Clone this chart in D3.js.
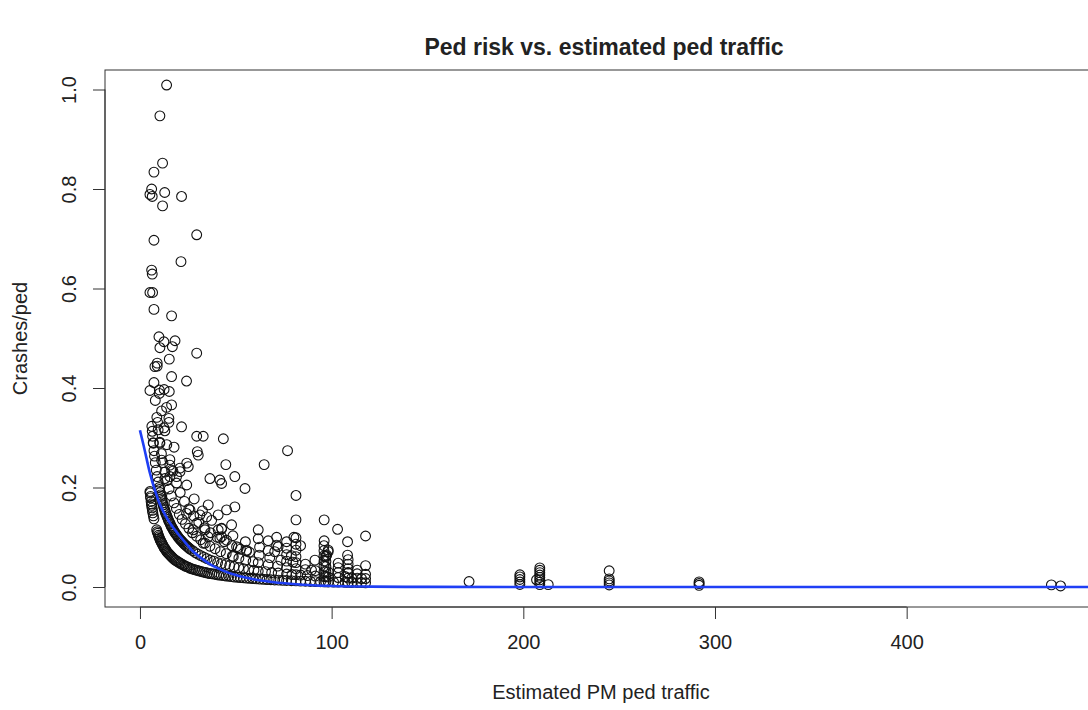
<!DOCTYPE html>
<html><head><meta charset="utf-8">
<script src="https://cdn.jsdelivr.net/npm/d3@7"></script>
<style>html,body{margin:0;padding:0;background:#fff;} svg{display:block;font-family:"Liberation Sans",Arial,Helvetica,sans-serif;}</style>
</head><body><svg id="chart" width="1088" height="710"></svg>
<script>
// ---- data ----
const chartTitle = "Ped risk vs. estimated ped traffic";
const xLabel = "Estimated PM ped traffic";
const yLabel = "Crashes/ped";
const xTicks = [0, 100, 200, 300, 400];
const yTicks = [0, 0.2, 0.4, 0.6, 0.8, 1.0];
const yTickLabels = ["0.0", "0.2", "0.4", "0.6", "0.8", "1.0"];

// lowest dense band (one crash)
const lowBand = [[5.2,0.192],[5.3,0.189],[5.5,0.182],[5.6,0.179],[5.8,0.172],[6.0,0.167],[6.1,0.164],[6.3,0.159],[6.5,0.154],[6.7,0.149],[7.0,0.143],[7.3,0.137],
[8.7,0.115],[9.0,0.111],[9.3,0.108],[9.6,0.104],[9.9,0.101],[10.2,0.098],[10.5,0.095],[10.8,0.093],[11.1,0.090],[11.4,0.088],[11.8,0.085],[12.2,0.082],[12.6,0.079],[13.0,0.077],[13.4,0.075],[13.8,0.072],[14.2,0.070],[14.7,0.068],[15.2,0.066],[15.7,0.064],[16.2,0.062],[16.7,0.060],[17.2,0.058],[17.8,0.056],[18.4,0.054],[19.0,0.053],[19.6,0.051],[20.2,0.050],[20.8,0.048],[21.5,0.047],[22.2,0.045],[22.9,0.044],[23.6,0.042],[24.4,0.041],[25.2,0.040],[26.0,0.038],[26.8,0.037],[27.6,0.036],[28.5,0.035],[29.4,0.034],[30.3,0.033],[31.2,0.032],[32.2,0.031],[33.2,0.030],[34.2,0.029],[35.3,0.028],[36.4,0.027],[37.5,0.0267],[38.7,0.026],[39.9,0.025],[41.1,0.024],[42.4,0.0236],[43.7,0.023],[45.0,0.022],[46.4,0.0216],[47.8,0.021],[49.3,0.020],[50.8,0.0197],[52.3,0.019],[53.9,0.0186],[55.5,0.018],[57.2,0.0175],[58.9,0.017],[60.6,0.0165],[62.5,0.016],[64.4,0.0155],[66.3,0.015],[68.3,0.0146],[70.3,0.0142],[72.4,0.0138],[74.5,0.0134],[76.5,0.0131],[79.0,0.0127],[81.4,0.0123],[83.8,0.0119],[86.3,0.0116],[88.9,0.0112],[91.5,0.0109],[94.2,0.0106],[96.0,0.0104],[97.0,0.0103],[98.2,0.0102],[101,0.0099],[103.4,0.0097],[107,0.0093],[108.6,0.0092],[110.5,0.0090],[113.3,0.0088],[115.6,0.0087],[117.7,0.0085]];

// second band (two crashes)
const secondBand = [[6.2,0.323],[6.4,0.313],[6.6,0.303],[6.9,0.290],[7.3,0.274],[7.6,0.263],[8.0,0.250],[8.5,0.235],[9.0,0.222],[9.5,0.211],[10.0,0.200],[10.5,0.190],[11.0,0.182],[11.5,0.174],[12.1,0.165],[12.7,0.157],[13.3,0.150],[14.0,0.143],[14.7,0.136],[15.4,0.130],[16.2,0.123],[17.0,0.118],[17.8,0.112],[18.7,0.107],[19.6,0.102],[20.6,0.097],[21.6,0.093],[22.7,0.088],[23.8,0.084],[25.0,0.080],[26.2,0.076],[27.5,0.073],[28.9,0.069],[30.3,0.066],[31.8,0.063],[33.4,0.060],[35.0,0.057],[36.8,0.054],[38.6,0.052],[40.5,0.049],[42.5,0.047],[44.6,0.045],[46.8,0.043],[49.1,0.041],[51.5,0.039],[54.0,0.037],[56.7,0.035],[59.5,0.034],[61.7,0.032],[65.5,0.031],[68.7,0.029],[72.1,0.028],[76.5,0.026],[79.3,0.025],[81.4,0.0246],[83.8,0.024],[87.3,0.023],[91.5,0.022],[96.0,0.021],[97.0,0.0206],[98.2,0.020],[103.4,0.019],[108.6,0.018],[115.6,0.017],
[10.2,0.196],[10.8,0.185],[11.3,0.177],[11.8,0.169],[12.4,0.161],[13.0,0.154],[13.6,0.147],[14.3,0.140],[15.0,0.133],[15.8,0.127],[16.6,0.120],[17.4,0.115],[18.2,0.110],[19.1,0.105],[20.1,0.0995],[21.1,0.0948],[22.1,0.0905],[23.2,0.0862],[24.4,0.082],[25.6,0.078]];

// third band (three crashes)
const thirdBand = [[7.3,0.411],[8.0,0.375],[8.8,0.341],[9.5,0.316],[10.3,0.291],[11.2,0.268],[12.0,0.250],[13.0,0.231],[14.0,0.214],[15.2,0.197],[16.4,0.183],[17.7,0.169],[19.0,0.158],[20.5,0.146],[22.0,0.136],[23.7,0.127],[25.5,0.118],[27.4,0.109],[29.5,0.102],[31.7,0.095],[34.0,0.088],[36.5,0.082],[39.2,0.077],[42.0,0.071],[45.0,0.067],[48.2,0.062],[51.6,0.058],[55.2,0.054],[59.0,0.051],[61.7,0.049],[66.9,0.045],[71.8,0.042],[76.5,0.039],[81.4,0.037],[86.3,0.035],[91.5,0.033],[96.0,0.031],[97.0,0.031],[98.2,0.0305],[103.4,0.029],[108.6,0.028]];

// fourth band
const fourthBand = [[9.0,0.444],[10.1,0.396],[11.3,0.354],[12.5,0.320],[14.0,0.286],[15.6,0.256],[17.2,0.233],[19.1,0.209],[21.0,0.190],[23.2,0.172],[25.5,0.157],[28.0,0.143],[30.7,0.130],[33.6,0.119],[36.8,0.109],[40.2,0.100],[44.0,0.091],[48.0,0.083],[52.4,0.076],[57.1,0.070],[62.2,0.064],[67.7,0.059],[73.5,0.054],[79.8,0.050],[86.3,0.046],[96.0,0.042],[97.0,0.041],[108.6,0.037]];

// fifth band
const fifthBand = [[10.4,0.481],[12.6,0.397],[15.1,0.331],[17.8,0.281],[20.9,0.239],[24.4,0.205],[28.3,0.177],[32.6,0.153],[37.4,0.134],[42.6,0.117],[48.5,0.103],[55.0,0.091],[62.4,0.080],[70.3,0.071],[79.0,0.063],[96.0,0.052],[108.6,0.046]];

// scattered individual points
const scatterPts = [[13.9,1.009],[10.4,0.947],[11.8,0.852],[7.3,0.834],[6.1,0.800],[5.2,0.789],[6.4,0.785],[12.9,0.793],[21.7,0.785],[11.8,0.766],[7.3,0.697],[29.6,0.708],[21.4,0.654],[6.1,0.637],[6.4,0.629],[5.2,0.592],[6.6,0.592],[7.3,0.558],[16.5,0.545],[9.9,0.503],[12.5,0.493],[18.3,0.495],[16.9,0.483],[29.6,0.470],[15.3,0.458],[9.0,0.450],[7.8,0.443],[24.3,0.414],[16.5,0.423],[5.2,0.395],[10.1,0.389],[15.3,0.393],[13.9,0.361],[16.5,0.366],[15.1,0.339],[9.2,0.331],[21.7,0.322],[13.0,0.314],[29.6,0.303],[33.0,0.303],[43.5,0.298],[77.0,0.274],[10.4,0.289],[7.0,0.289],[29.9,0.272],[30.4,0.265],[44.8,0.246],[64.8,0.246],[11.3,0.255],[15.6,0.245],[16.5,0.235],[20.9,0.232],[24.4,0.249],[25.2,0.242],[13.0,0.218],[15.6,0.222],[19.1,0.222],[36.5,0.218],[41.7,0.215],[42.6,0.208],[49.5,0.222],[54.8,0.198],[81.4,0.184],[35.6,0.165],[40.8,0.145],[45.2,0.155],[49.5,0.161],[47.8,0.125],[42.6,0.118],[41.7,0.098],[61.7,0.115],[61.7,0.097],[66.9,0.093],[71.3,0.100],[71.3,0.084],[76.5,0.091],[81.4,0.135],[81.4,0.099],[80.3,0.100],[83.8,0.083],[96.1,0.135],[103.1,0.116],[96.1,0.093],[108.3,0.091],[117.7,0.1025],[108.3,0.064],[98.2,0.071],[97.0,0.061],[103.4,0.039],[117.7,0.043],[113.3,0.034],[108.6,0.029],[107.0,0.021],[91.3,0.054],[89.5,0.034],[51.3,0.079],[55.6,0.072],[66.9,0.073],[72.1,0.081],[98.2,0.074],[97.4,0.064],
[24.3,0.148],[26.1,0.155],[31.3,0.145],[34.8,0.141],[29.6,0.128],[27.8,0.115],[33.9,0.115],[35.6,0.101],[33.0,0.088],[40.8,0.115],[42.6,0.101],[45.2,0.094],[50.4,0.081],[55.6,0.074],[48.7,0.061]];

// column clusters at repeated traffic estimates
const columnPts = [[76.5,0.052],[76.5,0.065],[76.5,0.078],[81.4,0.049],[81.4,0.061],[81.4,0.074],[81.4,0.086],[96.0,0.0625],[96.0,0.073],[96.0,0.083],[97.0,0.0515],[97.0,0.0619],[108.6,0.055],[103.4,0.048],[113.3,0.0177],[113.3,0.0265],[117.7,0.017],[117.7,0.0255],[110.5,0.018]];

// far-right points
const farPts = [[171.7,0.011],[198.2,0.0050],[198.2,0.0101],[198.2,0.0151],[198.2,0.0202],[198.2,0.0245],[206.9,0.0145],[208.6,0.0048],[208.6,0.0096],[208.6,0.0144],[208.6,0.0192],[208.6,0.024],[208.6,0.0288],[208.6,0.0336],[208.6,0.0384],[213,0.0047],[244.8,0.0041],[244.8,0.0082],[244.8,0.0123],[244.8,0.0163],[244.8,0.0327],[291.7,0.0034],[291.7,0.0069],[291.7,0.0103],[475.5,0.0042],[480.3,0.0021]];

// fitted curve (blue)
const fitX = [0, 2, 5, 8, 10, 14, 18, 22, 27, 32, 36, 44, 50, 60, 70, 80, 90, 100, 120, 150, 200, 300, 400, 500];
const fitY = [0.315, 0.283, 0.232, 0.192, 0.170, 0.139, 0.116, 0.097, 0.0744, 0.058, 0.047, 0.032, 0.024, 0.015, 0.0095, 0.006, 0.0035, 0.002, 0.0008, 0.0002, 0, 0, 0, 0];

// ---- drawing ----
const svg = d3.select("#chart");
const box = {left: 105, top: 70, right: 1097, bottom: 607};
const x = d3.scaleLinear().domain([-18.24, 499.3]).range([box.left, box.right]);
const y = d3.scaleLinear().domain([-0.0402, 1.0392]).range([box.bottom, box.top]);
const ink = "#222";

// box
svg.append("rect").attr("x", box.left).attr("y", box.top)
  .attr("width", box.right - box.left).attr("height", box.bottom - box.top)
  .attr("fill", "none").attr("stroke", "#333").attr("stroke-width", 1);

// x axis
const gx = svg.append("g").attr("transform", `translate(0,${box.bottom})`)
  .call(d3.axisBottom(x).tickValues(xTicks).tickSize(12).tickPadding(16).tickFormat(d3.format("d")));
gx.select(".domain").attr("d", `M${x(0)},0H${x(400)}`).attr("stroke", "#333");
gx.selectAll(".tick line").attr("stroke", "#333");
gx.selectAll(".tick text").attr("font-size", 20).attr("fill", ink).attr("font-family", "Liberation Sans, Arial, sans-serif");

// y axis
const gy = svg.append("g").attr("transform", `translate(${box.left},0)`)
  .call(d3.axisLeft(y).tickValues(yTicks).tickSize(12).tickFormat((d, i) => yTickLabels[i]));
gy.select(".domain").attr("d", `M0,${y(0)}V${y(1)}`).attr("stroke", "#333");
gy.selectAll(".tick line").attr("stroke", "#333");
gy.selectAll(".tick text")
  .attr("font-size", 20).attr("fill", ink).attr("font-family", "Liberation Sans, Arial, sans-serif")
  .attr("x", null).attr("dy", null)
  .attr("text-anchor", "middle")
  .attr("transform", "translate(-29,0) rotate(-90)");

// titles
svg.append("text").attr("x", (box.left + box.right) / 2 + 3).attr("y", 55)
  .attr("text-anchor", "middle").attr("font-size", 23).attr("font-weight", "bold").attr("fill", ink)
  .text(chartTitle);
svg.append("text").attr("x", (box.left + box.right) / 2).attr("y", 699)
  .attr("text-anchor", "middle").attr("font-size", 20).attr("fill", ink).text(xLabel);
svg.append("text").attr("transform", `translate(27,${(box.top + box.bottom) / 2}) rotate(-90)`)
  .attr("text-anchor", "middle").attr("font-size", 20).attr("fill", ink).text(yLabel);

// points
const allPts = [].concat(lowBand, secondBand, thirdBand, fourthBand, fifthBand, scatterPts, columnPts, farPts);
svg.append("g").selectAll("circle").data(allPts).join("circle")
  .attr("cx", d => x(d[0])).attr("cy", d => y(d[1])).attr("r", 4.9)
  .attr("fill", "none").attr("stroke", "#111").attr("stroke-width", 1.1);

// fitted line
const fit = fitX.map((v, i) => [v, fitY[i]]);
svg.append("path").datum(fit)
  .attr("d", d3.line().x(d => x(d[0])).y(d => y(d[1])).curve(d3.curveMonotoneX))
  .attr("fill", "none").attr("stroke", "#1f3ff5").attr("stroke-width", 2.6);
</script></body></html>
